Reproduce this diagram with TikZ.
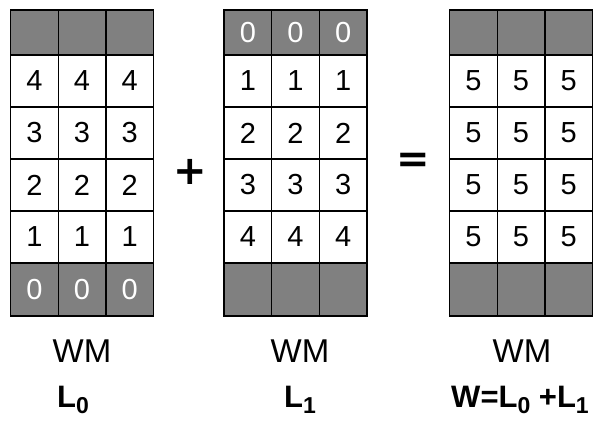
\documentclass[tikz,border=0pt]{standalone}
\usepackage{fontspec}
\setmainfont{Liberation Sans}
\newfontfamily\opfont{DejaVu Sans}
\usetikzlibrary{positioning}
\definecolor{cellgray}{RGB}{128,128,128}

\tikzset{
	cell/.style={draw=black, line width=1.3pt, minimum width=47.7pt, minimum height=52pt, inner sep=0pt, font=\fontsize{29}{29}\selectfont},
	dark/.style={cell, fill=cellgray, text=white},
	light/.style={cell, fill=white},
	wm/.style={anchor=base, font=\fontsize{33}{33}\selectfont},
	lab/.style={anchor=base, font=\bfseries\fontsize{31}{31}\selectfont},
	op/.style={font=\opfont\bfseries\fontsize{40}{40}\selectfont, inner sep=0pt}
}
\newcommand{\sub}[1]{\raisebox{-6pt}{\fontsize{23}{23}\selectfont #1}}

\begin{document}
\begin{tikzpicture}[x=1pt, y=-1pt]
			\useasboundingbox (0,0) rectangle (604,426);
			\begin{scope}
				\foreach \c in {1,2,3} {
					\node[dark, minimum height=45pt] (a0\c) at (10.5+47.7*\c-23.85, 32.5) {};
					\foreach \r/\v in {1/4, 2/3, 3/2, 4/1}
						\node[light] (a\r\c) at (10.5+47.7*\c-23.85, 29+52*\r) {\v};
					\node[dark, minimum height=53pt] (a5\c) at (10.5+47.7*\c-23.85, 289.5) {0};
				} % L0
				\foreach \c in {1,2,3} {
					\node[dark, minimum height=45pt] (b0\c) at (224+47.7*\c-23.85, 32.5) {0};
					\foreach \r/\v in {1/1, 2/2, 3/3, 4/4}
						\node[light] (b\r\c) at (224+47.7*\c-23.85, 29+52*\r) {\v};
					\node[dark, minimum height=53pt] (b5\c) at (224+47.7*\c-23.85, 289.5) {};
				} % L1
				\foreach \c in {1,2,3} {
					\node[dark, minimum height=45pt] (c0\c) at (449.5+47.7*\c-23.85, 32.5) {};
					\foreach \r in {1,2,3,4}
						\node[light] (c\r\c) at (449.5+47.7*\c-23.85, 29+52*\r) {5};
					\node[dark, minimum height=53pt] (c5\c) at (449.5+47.7*\c-23.85, 289.5) {};
				} % W

				\node[op] (plus) at (190,172) {+};
				\node[op] (equal) at (413,163) {=};

				\node[wm] (wma) at (82,362) {WM};
				\node[wm] (wmb) at (300,362) {WM};
				\node[wm] (wmc) at (522,362) {WM};

				\node[lab] (la) at (73,407) {L\sub{0}};
				\node[lab] (lb) at (300,407) {L\sub{1}};
				\node[lab] (lc) at (520,407) {W=L\sub{0} +L\sub{1}};
			\end{scope}
		\end{tikzpicture}
\end{document}
